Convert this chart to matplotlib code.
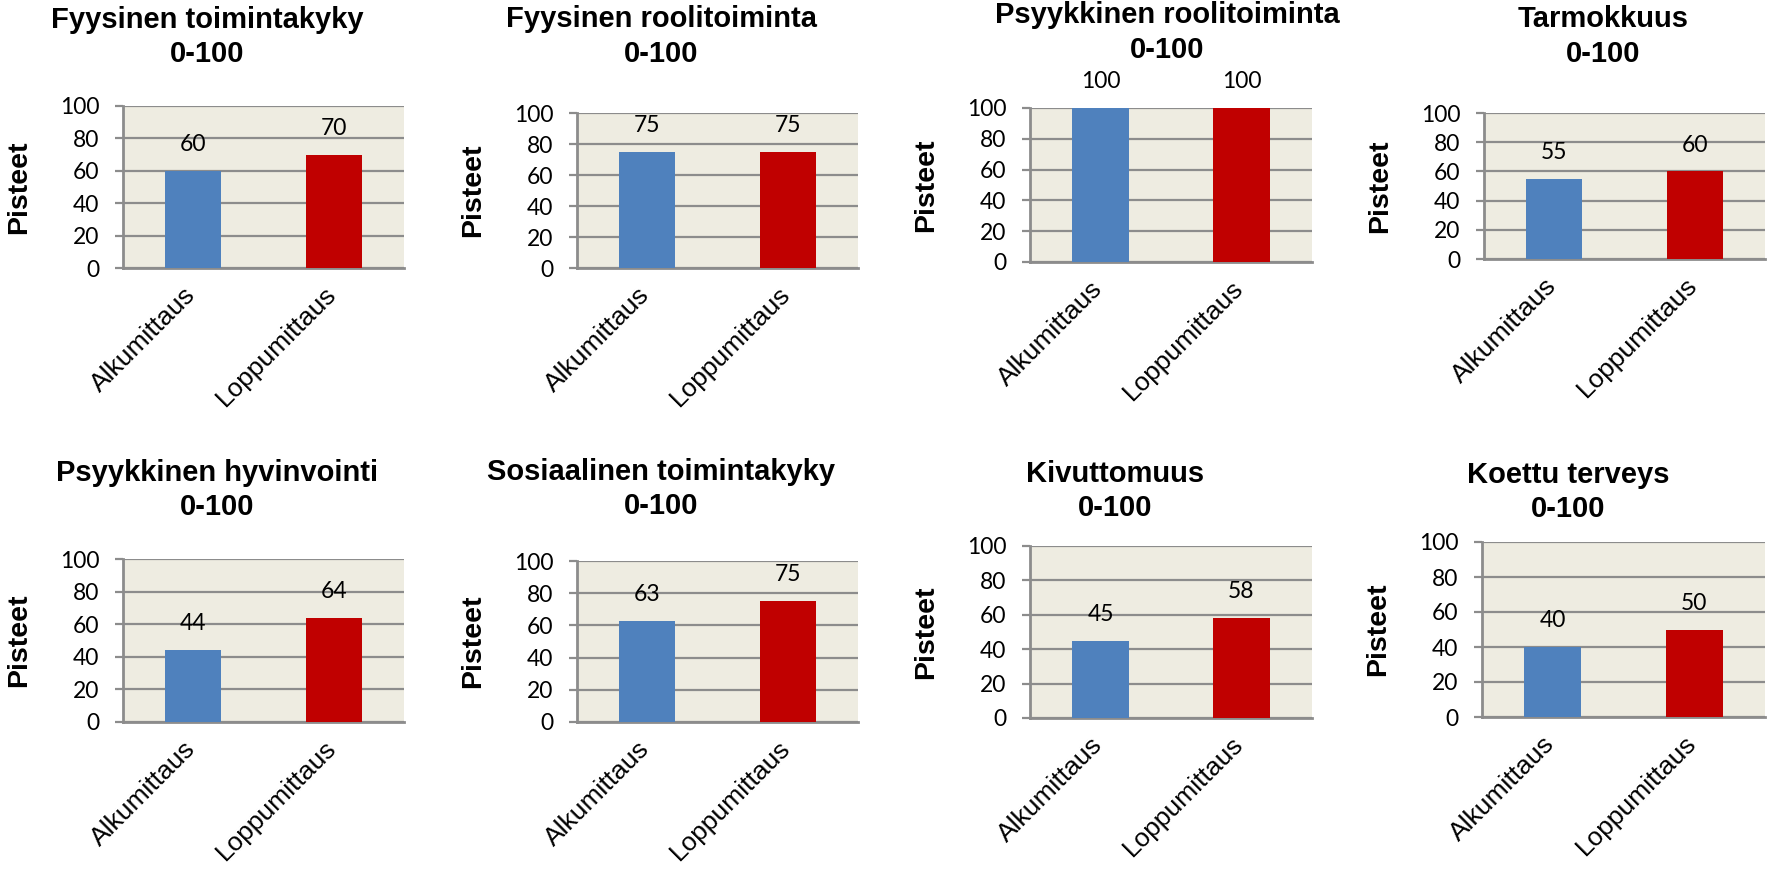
import numpy as np
import matplotlib
matplotlib.use('Agg')
import matplotlib.pyplot as plt

W, H = 1771, 869

titles = ['Fyysinen toimintakyky', 'Fyysinen roolitoiminta', 'Psyykkinen roolitoiminta', 'Tarmokkuus',
          'Psyykkinen hyvinvointi', 'Sosiaalinen toimintakyky', 'Kivuttomuus', 'Koettu terveys']
categories = ['Alkumittaus', 'Loppumittaus']
alku = [60, 75, 100, 55, 44, 63, 45, 40]
loppu = [70, 75, 100, 60, 64, 75, 58, 50]
yticks = [0, 20, 40, 60, 80, 100]

# plot area in pixels: left, right, top, bottom
rects = [(123, 404, 106, 268), (577, 858, 113, 268), (1030, 1312, 108, 262), (1484, 1765, 113, 259),
         (123, 404, 559, 722), (577, 858, 561, 722), (1030, 1312, 546, 718), (1482, 1765, 542, 717)]
# title centre in pixels
title_pos = [(207, 37), (661, 36.5), (1167, 32.5), (1603, 36.5),
             (217, 490), (661, 489), (1115, 491), (1568, 492)]

blue = '#4F81BD'
red = '#C00000'
bg = '#EEECE1'
grid = '#8C8C8C'

fig = plt.figure(figsize=(W / 100, H / 100), dpi=100)
fig.patch.set_facecolor('white')

for i in range(8):
    l, r, t, b = rects[i]
    ax = fig.add_axes([l / W, 1 - b / H, (r - l) / W, (b - t) / H])
    ax.set_facecolor(bg)
    x = np.arange(len(categories))
    vals = [alku[i], loppu[i]]
    ax.bar(x, vals, width=0.4, color=[blue, red], zorder=3)
    for xi, v in zip(x, vals):
        ax.annotate(str(v), (xi, v), xytext=(0, 19), textcoords='offset points',
                    ha='center', va='center', fontsize=16.5, family='Lato', color='black')
    ax.set_xlim(-0.5, 1.5)
    ax.set_ylim(0, 100)
    ax.set_yticks(yticks)
    ax.set_yticklabels([str(v) for v in yticks], fontsize=16.5, family='Lato')
    ax.yaxis.grid(True, color=grid, linewidth=1.6, zorder=0)
    ax.set_axisbelow(True)
    ax.tick_params(axis='y', length=6, width=1.6, color=grid, pad=11)
    ax.set_xticks(x)
    ax.set_xticklabels([])
    ax.tick_params(axis='x', length=0)
    # category labels, rotated, baseline end just under each bar
    for xi, c in zip(x, categories):
        ax.annotate(c, (xi, 0), xycoords=('data', 'axes fraction'), xytext=(2.5, -20),
                    textcoords='offset points', rotation=45, ha='right', va='baseline',
                    rotation_mode='anchor', fontsize=19, family='Liberation Sans')
    for s in ['top', 'right']:
        ax.spines[s].set_visible(False)
    ax.spines['left'].set_color(grid)
    ax.spines['left'].set_linewidth(2)
    ax.spines['bottom'].set_color(grid)
    ax.spines['bottom'].set_linewidth(2)
    ax.set_ylabel('Pisteet', fontsize=20.5, fontweight='bold', family='Liberation Sans')
    ax.yaxis.set_label_coords(-91 / (r - l), 0.5)
    tx, ty = title_pos[i]
    fig.text(tx / W, 1 - ty / H, titles[i] + '\n0-100', ha='center', va='center',
             fontsize=21, fontweight='bold', family='Liberation Sans', linespacing=1.3)

fig.savefig('out.png', dpi=100)
